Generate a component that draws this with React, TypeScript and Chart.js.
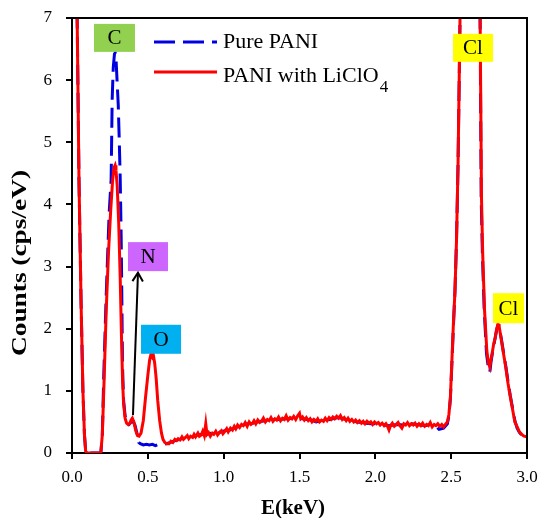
import React, { useEffect, useRef } from "react";
import { Chart, registerables } from "chart.js";

Chart.register(...registerables);

// ---------- data (E in keV, counts in cps/eV) ----------
const redStart: number[][] = [
  [0.025, 8.5], [0.035, 6.8], [0.046, 4.4], [0.06, 2.4], [0.072, 1.0], [0.082, 0.3], [0.09, 0.03], [0.1, 0.0],
  [0.19, 0.0], [0.2, 0.3], [0.212, 1.2], [0.225, 2.25], [0.24, 3.2], [0.255, 3.9], [0.268, 4.4], [0.278, 4.6],
  [0.284, 4.63], [0.29, 4.55], [0.298, 4.3], [0.308, 3.7], [0.318, 2.8], [0.326, 1.9], [0.333, 1.2], [0.34, 0.8],
  [0.35, 0.56], [0.36, 0.48], [0.37, 0.46], [0.38, 0.47], [0.39, 0.53], [0.398, 0.56], [0.408, 0.5], [0.42, 0.36],
  [0.432, 0.28], [0.442, 0.27], [0.455, 0.32], [0.47, 0.52], [0.485, 0.9], [0.5, 1.25], [0.512, 1.5], [0.522, 1.6],
  [0.53, 1.55], [0.536, 1.58], [0.545, 1.45], [0.555, 1.2], [0.565, 0.85], [0.578, 0.52], [0.59, 0.32], [0.6, 0.22],
  [0.612, 0.17], [0.625, 0.15],
];
const redMid: number[][] = [
  [0.64, 0.15], [0.652, 0.19], [0.665, 0.17], [0.678, 0.22], [0.69, 0.2], [0.7, 0.23], [0.712, 0.21], [0.725, 0.26],
  [0.735, 0.22], [0.748, 0.25], [0.76, 0.28], [0.77, 0.23], [0.782, 0.27], [0.795, 0.25], [0.805, 0.3], [0.815, 0.26],
  [0.83, 0.32], [0.84, 0.27], [0.852, 0.29], [0.862, 0.35], [0.872, 0.28], [0.882, 0.47], [0.89, 0.3], [0.9, 0.33],
  [0.912, 0.27], [0.925, 0.32], [0.935, 0.3], [0.948, 0.35], [0.96, 0.29], [0.972, 0.33], [0.985, 0.36], [0.995, 0.31],
  [1.008, 0.35], [1.02, 0.39], [1.03, 0.34], [1.045, 0.4], [1.058, 0.37], [1.07, 0.43], [1.08, 0.39], [1.092, 0.45],
  [1.105, 0.41], [1.118, 0.46], [1.13, 0.44], [1.142, 0.49], [1.155, 0.43], [1.168, 0.5], [1.18, 0.46], [1.19, 0.48],
  [1.2, 0.52], [1.212, 0.47], [1.225, 0.53], [1.238, 0.49], [1.25, 0.51], [1.262, 0.56], [1.275, 0.5], [1.288, 0.54],
  [1.3, 0.52], [1.312, 0.57], [1.325, 0.51], [1.338, 0.55], [1.35, 0.53], [1.362, 0.58], [1.375, 0.52], [1.388, 0.56],
  [1.4, 0.54], [1.412, 0.6], [1.425, 0.53], [1.438, 0.57], [1.45, 0.55], [1.462, 0.59], [1.475, 0.54], [1.488, 0.6],
  [1.5, 0.64], [1.508, 0.55], [1.52, 0.58], [1.532, 0.53], [1.545, 0.57], [1.558, 0.52], [1.57, 0.55], [1.582, 0.5],
  [1.595, 0.54], [1.608, 0.51], [1.62, 0.55], [1.632, 0.5], [1.645, 0.53], [1.658, 0.51], [1.67, 0.56], [1.682, 0.52],
  [1.695, 0.57], [1.708, 0.54], [1.72, 0.58], [1.732, 0.55], [1.745, 0.59], [1.758, 0.56], [1.77, 0.6], [1.782, 0.54],
  [1.795, 0.57], [1.808, 0.52], [1.82, 0.56], [1.832, 0.51], [1.845, 0.54], [1.858, 0.5], [1.87, 0.53], [1.882, 0.49],
  [1.895, 0.52], [1.908, 0.48], [1.92, 0.51], [1.932, 0.47], [1.945, 0.51], [1.958, 0.48], [1.97, 0.5], [1.982, 0.46],
  [1.995, 0.5], [2.008, 0.47], [2.02, 0.49], [2.032, 0.45], [2.045, 0.48], [2.058, 0.44], [2.07, 0.47], [2.08, 0.43],
  [2.09, 0.37], [2.1, 0.44], [2.112, 0.48], [2.125, 0.43], [2.138, 0.46], [2.15, 0.49], [2.162, 0.44], [2.175, 0.4],
  [2.188, 0.47], [2.2, 0.45], [2.212, 0.49], [2.225, 0.44], [2.238, 0.47], [2.25, 0.45], [2.262, 0.48], [2.275, 0.43],
  [2.288, 0.47], [2.3, 0.44], [2.312, 0.48], [2.325, 0.43], [2.338, 0.46], [2.35, 0.44], [2.362, 0.49], [2.375, 0.42],
  [2.388, 0.46], [2.4, 0.44], [2.412, 0.47], [2.425, 0.43], [2.438, 0.46], [2.45, 0.42], [2.462, 0.46], [2.475, 0.5],
];
const redEnd: number[][] = [
  [2.485, 0.62], [2.495, 0.9], [2.505, 1.5], [2.515, 2.1], [2.525, 2.6], [2.535, 3.4], [2.545, 4.6], [2.553, 6.0],
  [2.56, 7.3], [2.58, 9.0], [2.62, 10.0], [2.66, 9.5], [2.69, 7.3], [2.7, 4.1], [2.708, 3.2], [2.72, 2.3],
  [2.735, 1.65], [2.745, 1.45], [2.755, 1.38], [2.762, 1.5], [2.77, 1.6], [2.78, 1.75], [2.79, 1.85], [2.8, 2.0],
  [2.808, 2.07], [2.815, 2.06], [2.822, 1.95], [2.83, 1.83], [2.845, 1.6], [2.86, 1.38], [2.875, 1.12], [2.89, 0.9],
  [2.905, 0.7], [2.92, 0.5], [2.935, 0.42], [2.95, 0.34], [2.965, 0.3], [2.98, 0.27], [3.0, 0.26],
];

const blueStart: number[][] = [
  [0.025, 8.5], [0.035, 6.8], [0.046, 4.4], [0.06, 2.4], [0.072, 1.0], [0.082, 0.3], [0.09, 0.03], [0.1, 0.0],
  [0.19, 0.0], [0.2, 0.3], [0.21, 1.3], [0.225, 2.5], [0.245, 3.86], [0.258, 4.4], [0.265, 5.7], [0.272, 6.2],
  [0.28, 6.42], [0.285, 6.44], [0.29, 6.35], [0.297, 6.0], [0.305, 5.6], [0.312, 5.0], [0.318, 4.4], [0.324, 3.5],
  [0.329, 2.4], [0.333, 1.4], [0.34, 0.85], [0.35, 0.6], [0.36, 0.5], [0.375, 0.46], [0.39, 0.5], [0.4, 0.52],
  [0.415, 0.45], [0.43, 0.3], [0.44, 0.17], [0.45, 0.15], [0.47, 0.13], [0.49, 0.14], [0.51, 0.13], [0.53, 0.14],
  [0.55, 0.12], [0.57, 0.14], [0.59, 0.13], [0.605, 0.14], [0.62, 0.15],
];
const blueMid: number[][] = [
  [0.65, 0.17], [0.68, 0.2], [0.71, 0.22], [0.74, 0.24], [0.77, 0.26], [0.8, 0.26], [0.83, 0.29], [0.86, 0.3],
  [0.89, 0.3], [0.92, 0.32], [0.95, 0.3], [0.98, 0.34], [1.01, 0.36], [1.04, 0.37], [1.07, 0.4], [1.1, 0.43],
  [1.13, 0.45], [1.16, 0.47], [1.19, 0.48], [1.22, 0.5], [1.25, 0.51], [1.28, 0.52], [1.31, 0.53], [1.34, 0.54],
  [1.37, 0.54], [1.4, 0.55], [1.43, 0.55], [1.46, 0.56], [1.49, 0.56], [1.52, 0.55], [1.55, 0.54], [1.58, 0.53],
  [1.61, 0.5], [1.64, 0.52], [1.67, 0.53], [1.7, 0.54], [1.73, 0.56], [1.76, 0.57], [1.79, 0.55], [1.82, 0.53],
  [1.85, 0.52], [1.88, 0.5], [1.91, 0.49], [1.94, 0.48], [1.97, 0.47], [2.0, 0.47], [2.03, 0.46], [2.06, 0.45],
  [2.09, 0.44], [2.12, 0.45], [2.15, 0.46], [2.18, 0.45], [2.21, 0.46], [2.24, 0.47], [2.27, 0.46], [2.3, 0.45],
  [2.33, 0.44], [2.36, 0.46], [2.39, 0.45], [2.42, 0.38], [2.45, 0.4], [2.475, 0.47],
];
const blueEnd: number[][] = [
  [2.485, 0.6], [2.495, 0.88], [2.505, 1.45], [2.515, 2.05], [2.525, 2.6], [2.535, 3.4], [2.545, 4.6], [2.553, 6.0],
  [2.56, 7.3], [2.58, 9.0], [2.62, 10.0], [2.66, 9.5], [2.69, 7.3], [2.698, 4.1], [2.706, 3.2], [2.718, 2.3],
  [2.733, 1.6], [2.745, 1.38], [2.755, 1.3], [2.762, 1.45], [2.77, 1.58], [2.78, 1.72], [2.79, 1.85], [2.8, 1.98],
  [2.808, 2.05], [2.815, 2.05], [2.822, 1.95], [2.83, 1.85], [2.845, 1.62], [2.86, 1.4], [2.875, 1.15], [2.89, 0.92],
  [2.905, 0.72], [2.92, 0.52], [2.935, 0.4], [2.95, 0.33], [2.965, 0.29], [2.98, 0.27], [3.0, 0.25],
];

const seriesNames = ["Pure PANI", "PANI with LiClO"];
const xTickValues = [0, 0.5, 1, 1.5, 2, 2.5, 3];
const yTickValues = [0, 1, 2, 3, 4, 5, 6, 7];

// element labels: text, centre (keV, cps/eV), box colour
const peakLabels = ["C", "N", "O", "Cl", "Cl"];
const peakLabelX = [0.28, 0.501, 0.587, 2.644, 2.878];
const peakLabelY = [6.68, 3.16, 1.83, 6.52, 2.33];
const peakLabelW = [41, 40, 40, 40, 31];
const peakLabelH = [28, 29, 29, 28, 30];
const peakLabelColor = ["#92D050", "#CC66FF", "#00B0F0", "#FFFF00", "#FFFF00"];

// arrow from N shoulder to N label (keV, cps/eV)
const arrowFrom = [0.402, 0.61];
const arrowTo = [0.435, 2.9];

const FONT = '"Liberation Serif", "Times New Roman", serif';
const BLUE = "#0000E0";
const RED = "#FF0000";

const toXY = (arr: number[][]) => arr.map(([x, y]) => ({ x, y }));

const overlayPlugin = {
  id: "overlay",
  afterDraw(chart: any) {
    const { ctx, chartArea } = chart;
    const { left, right, top, bottom } = chartArea;
    const xs = chart.scales.x;
    const ys = chart.scales.y;
    ctx.save();
    // frame top + right
    ctx.strokeStyle = "#000";
    ctx.lineWidth = 2;
    ctx.beginPath();
    ctx.moveTo(left - 1, top);
    ctx.lineTo(right, top);
    ctx.lineTo(right, bottom + 1);
    ctx.stroke();

    // element label boxes
    peakLabels.forEach((t, i) => {
      const cx = xs.getPixelForValue(peakLabelX[i]);
      const cy = ys.getPixelForValue(peakLabelY[i]);
      const w = peakLabelW[i];
      const h = peakLabelH[i];
      ctx.fillStyle = peakLabelColor[i];
      ctx.fillRect(cx - w / 2, cy - h / 2, w, h);
      ctx.fillStyle = "#000";
      ctx.font = `21px ${FONT}`;
      ctx.textAlign = "center";
      ctx.textBaseline = "middle";
      ctx.fillText(t, cx, cy + 1);
    });

    // arrow
    const ax0 = xs.getPixelForValue(arrowFrom[0]);
    const ay0 = ys.getPixelForValue(arrowFrom[1]);
    const ax1 = xs.getPixelForValue(arrowTo[0]);
    const ay1 = ys.getPixelForValue(arrowTo[1]);
    ctx.strokeStyle = "#000";
    ctx.lineWidth = 2;
    ctx.beginPath();
    ctx.moveTo(ax0, ay0);
    ctx.lineTo(ax1, ay1);
    ctx.stroke();
    const ang = Math.atan2(ay1 - ay0, ax1 - ax0);
    const hl = 10;
    ctx.beginPath();
    ctx.moveTo(ax1 + hl * Math.cos(ang + Math.PI - 0.55), ay1 + hl * Math.sin(ang + Math.PI - 0.55));
    ctx.lineTo(ax1, ay1);
    ctx.lineTo(ax1 + hl * Math.cos(ang + Math.PI + 0.55), ay1 + hl * Math.sin(ang + Math.PI + 0.55));
    ctx.stroke();

    // legend
    ctx.lineWidth = 3;
    ctx.strokeStyle = BLUE;
    ctx.setLineDash([21, 8]);
    ctx.beginPath();
    ctx.moveTo(154, 42);
    ctx.lineTo(217, 42);
    ctx.stroke();
    ctx.setLineDash([]);
    ctx.strokeStyle = RED;
    ctx.beginPath();
    ctx.moveTo(154, 72);
    ctx.lineTo(217, 72);
    ctx.stroke();
    ctx.fillStyle = "#000";
    ctx.textAlign = "left";
    ctx.textBaseline = "alphabetic";
    ctx.font = `22px ${FONT}`;
    ctx.fillText(seriesNames[0], 223, 48);
    ctx.fillText(seriesNames[1], 223, 82);
    const w2 = ctx.measureText(seriesNames[1]).width;
    ctx.font = `17px ${FONT}`;
    ctx.fillText("4", 223 + w2 + 1, 92);

    // axis titles
    ctx.font = `bold 21px ${FONT}`;
    ctx.textAlign = "center";
    ctx.textBaseline = "middle";
    ctx.fillText("E(keV)", 293, 509);
    const yTitle = "Counts (cps/eV)";
    const tw = ctx.measureText(yTitle).width;
    ctx.translate(21, 263);
    ctx.rotate(-Math.PI / 2);
    ctx.scale(186 / tw, 1);
    ctx.fillText(yTitle, 0, 0);
    ctx.restore();
  },
};

export default function App() {
  const ref = useRef<HTMLCanvasElement | null>(null);
  useEffect(() => {
    if (!ref.current) return;
    const chart = new Chart(ref.current, {
      type: "line",
      data: {
        datasets: [
          {
            label: seriesNames[1],
            data: toXY([...redStart, ...redMid, ...redEnd]),
            borderColor: RED,
            borderWidth: 3,
            pointRadius: 0,
            tension: 0,
            order: 0,
          },
          {
            label: seriesNames[0],
            data: toXY([...blueStart, ...blueMid, ...blueEnd]),
            borderColor: BLUE,
            borderWidth: 3,
            borderDash: [20, 8],
            pointRadius: 0,
            tension: 0,
            order: 1,
          },
        ],
      },
      options: {
        animation: false,
        responsive: false,
        maintainAspectRatio: false,
        events: [],
        layout: { padding: { left: 0, right: 13, top: 18, bottom: 0 } },
        plugins: { legend: { display: false }, tooltip: { enabled: false } },
        scales: {
          x: {
            type: "linear",
            min: 0,
            max: 3,
            afterBuildTicks: (s: any) => {
              s.ticks = xTickValues.map((v) => ({ value: v }));
            },
            ticks: {
              callback: (v: any) => Number(v).toFixed(1),
              font: { family: FONT, size: 17 },
              color: "#000",
              padding: 8,
              maxRotation: 0,
              autoSkip: false,
            },
            grid: { drawOnChartArea: false, drawTicks: true, tickLength: 6, color: "#000", lineWidth: 2 },
            border: { color: "#000", width: 2 },
            afterFit: (s: any) => {
              s.height = 65;
              s.paddingLeft = 0;
              s.paddingRight = 0;
            },
          },
          y: {
            type: "linear",
            min: 0,
            max: 7,
            afterBuildTicks: (s: any) => {
              s.ticks = yTickValues.map((v) => ({ value: v }));
            },
            ticks: {
              callback: (v: any) => String(v),
              font: { family: FONT, size: 17 },
              color: "#000",
              padding: 14,
              autoSkip: false,
            },
            grid: { drawOnChartArea: false, drawTicks: true, tickLength: 6, color: "#000", lineWidth: 2 },
            border: { color: "#000", width: 2 },
            afterFit: (s: any) => {
              s.width = 72;
              s.paddingTop = 0;
              s.paddingBottom = 0;
            },
          },
        },
      },
      plugins: [overlayPlugin],
    });
    return () => chart.destroy();
  }, []);
  return (
    <div style={{ position: "fixed", left: 0, top: 0, width: 540, height: 518, background: "#fff" }}>
      <canvas ref={ref} width={540} height={518} style={{ display: "block" }} />
    </div>
  );
}
